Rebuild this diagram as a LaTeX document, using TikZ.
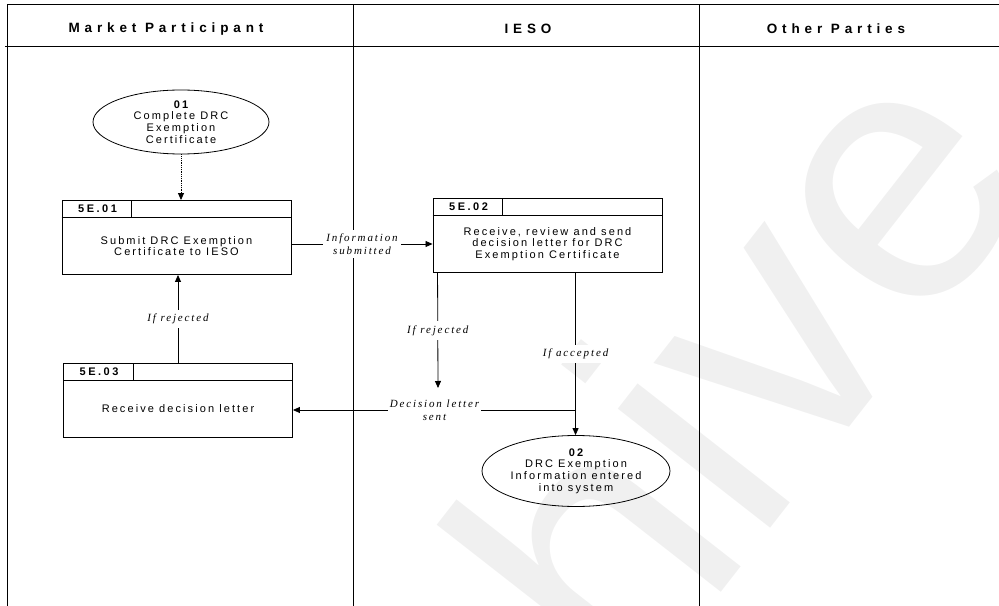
\documentclass[tikz,border=0pt]{standalone}
\usepackage{fontspec}
\setmainfont{Liberation Sans}
\usetikzlibrary{arrows.meta,shapes.geometric}
\newfontfamily\hdrf[LetterSpace=36]{Liberation Sans}
\newfontfamily\bodyf[LetterSpace=19]{Liberation Sans}
\newfontfamily\idf[LetterSpace=23]{Liberation Sans}
\newfontfamily\lblf[LetterSpace=17]{Liberation Serif}
\newfontfamily\wmf{Liberation Sans}
\definecolor{wmcol}{RGB}{240,240,240}
\begin{document}
\begin{tikzpicture}[x=1bp,y=-1bp,
  lane/.style={line width=0.9bp},
  proc/.style={draw,line width=0.9bp,minimum width=229bp,minimum height=74bp,inner sep=0pt},
  term/.style={draw,ellipse,line width=0.8bp,inner sep=0pt},
  hdr/.style={font=\hdrf\bfseries\fontsize{13.5bp}{15bp}\selectfont},
  idtxt/.style={font=\idf\bfseries\fontsize{11bp}{12bp}\selectfont,inner sep=0pt},
  bodytxt/.style={font=\bodyf\fontsize{11bp}{11.6bp}\selectfont,align=center,inner sep=0pt},
  lbl/.style={font=\lblf\itshape\fontsize{11bp}{13bp}\selectfont,align=center,fill=white,inner xsep=3bp,inner ysep=4bp},
  conn/.style={line width=0.8bp,-{Triangle[length=7bp,width=6bp]}}
]
\useasboundingbox (0,0) rectangle (999,606);
% watermark
\begin{scope}
\clip (0,0) rectangle (999,606);
\node[anchor=base,rotate=52,text=wmcol,inner sep=0pt,font=\wmf\fontsize{366bp}{366bp}\selectfont] (wm) at (668,660) {Archive};
\end{scope}
% lanes
\coordinate (tl) at (7.5,4.5);
\coordinate (tr) at (999,4.5);
\coordinate (hl) at (5,46);
\coordinate (hr) at (999,46);
\coordinate (bl) at (7.5,606);
\coordinate (d1t) at (353,4.5);
\coordinate (d1b) at (353,606);
\coordinate (d2t) at (699,4.5);
\coordinate (d2b) at (699,606);
\draw[lane] (tl) -- (tr);
\draw[lane] (hl) -- (hr);
\draw[lane] (tl) -- (bl);
\draw[lane] (d1t) -- (d1b);
\draw[lane] (d2t) -- (d2b);
\node[hdr] (h1) at (166,29) {Market Participant};
\node[hdr] (h2) at (528,29) {IESO};
\node[hdr] (h3) at (836,29) {Other Parties};
% terminators
\node[term,minimum width=176bp,minimum height=64bp] (e1) at (181,122) {};
\node[bodytxt] (e1t) at (e1.center) {{\bfseries 01}\\Complete DRC\\Exemption\\Certificate};
\node[term,minimum width=188bp,minimum height=71bp] (e2) at (576,471) {};
\node[bodytxt] (e2t) at (e2.center) {{\bfseries 02}\\DRC Exemption\\Information entered\\into system};
% process boxes
\node[proc] (b1) at (176.5,237.5) {};
\node[proc] (b2) at (547.5,235.5) {};
\node[proc] (b3) at (178,400.5) {};
\foreach \b/\id in {b1/5E.01,b2/5E.02,b3/5E.03}{
  \draw[line width=0.9bp] ([yshift=-17bp]\b.north west) -- ([yshift=-17bp]\b.north east);
  \draw[line width=0.9bp] ([xshift=70bp]\b.north west) -- ([xshift=70bp,yshift=-17bp]\b.north west);
  \node[idtxt] (\b id) at ([xshift=36bp,yshift=-8.5bp]\b.north west) {\id};
}
\node[bodytxt] (b1t) at ([yshift=-8.5bp]b1.center) {Submit DRC Exemption\\Certificate to IESO};
\node[bodytxt] (b2t) at ([yshift=-8.5bp]b2.center) {Receive, review and send\\decision letter for DRC\\Exemption Certificate};
\node[bodytxt] (b3t) at ([yshift=-8.5bp]b3.center) {Receive decision letter};
% connectors
\draw[conn,densely dotted] (e1) -- (e1 |- b1.north);
\coordinate (y244) at (0,244);
\draw[conn] (b1.east |- y244) -- (b2.west |- y244) node[lbl,midway] (l1) {Information\\submitted};
\coordinate (rjEnd) at (438,388);
\draw[conn] ([xshift=5bp]b2.south west) -- (rjEnd) node[lbl,midway] (l2) {If rejected};
\draw[conn] ([xshift=143bp]b2.south west) -- ([xshift=143bp]b2.south west |- e2.north) node[lbl,midway] (l3) {If accepted};
\coordinate (jn) at (576,410);
\draw[conn] (jn) -- (jn -| b3.east) node[lbl,midway,inner xsep=2bp] (l4) {Decision letter\\sent};
\draw[conn] (b3.north) -- (b3.north |- b1.south) node[lbl,midway] (l5) {If rejected};
\end{tikzpicture}
\end{document}
